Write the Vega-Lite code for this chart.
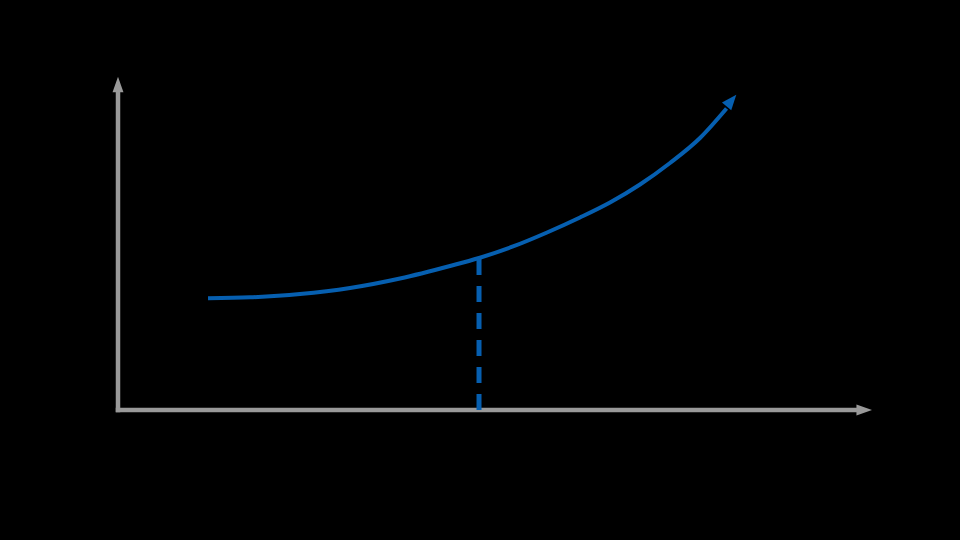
{
  "$schema": "https://vega.github.io/schema/vega-lite/v6.json",
  "autosize": "none",
  "width": 754,
  "height": 333,
  "padding": {"left": 118, "top": 77, "right": 88, "bottom": 130},
  "background": "#000000",
  "config": {"view": {"stroke": null}},
  "layer": [
    {
      "data": {"values": [
        {"x": 0, "y": 0, "x2": 0, "y2": 9.55},
        {"x": 0, "y": 0, "x2": 9.8, "y2": 0}
      ]},
      "mark": {"type": "rule", "color": "#999999", "strokeWidth": 4.5, "strokeCap": "square"},
      "encoding": {
        "x": {"field": "x", "type": "quantitative", "scale": {"domain": [0, 10]}, "axis": null},
        "y": {"field": "y", "type": "quantitative", "scale": {"domain": [0, 10]}, "axis": null},
        "x2": {"field": "x2"},
        "y2": {"field": "y2"}
      }
    },
    {
      "data": {"values": [
        {"x": 0, "y": 9.775, "angle": 0},
        {"x": 9.897, "y": 0, "angle": 90}
      ]},
      "mark": {"type": "point", "shape": "M0,-1L0.7,1L-0.7,1Z", "filled": true, "color": "#999999", "opacity": 1, "size": 243},
      "encoding": {
        "x": {"field": "x", "type": "quantitative", "scale": {"domain": [0, 10]}, "axis": null},
        "y": {"field": "y", "type": "quantitative", "scale": {"domain": [0, 10]}, "axis": null},
        "angle": {"field": "angle", "type": "quantitative", "scale": null}
      }
    },
    {
      "data": {"values": [
        {"x": 4.788, "y": 4.535, "y2": 0}
      ]},
      "mark": {"type": "rule", "color": "#065fb0", "strokeWidth": 5, "strokeDash": [16, 11]},
      "encoding": {
        "x": {"field": "x", "type": "quantitative", "scale": {"domain": [0, 10]}, "axis": null},
        "y": {"field": "y", "type": "quantitative", "scale": {"domain": [0, 10]}, "axis": null},
        "y2": {"field": "y2"}
      }
    },
    {
      "data": {"values": [
        {"x": 1.194, "y": 3.354},
        {"x": 1.751, "y": 3.384},
        {"x": 2.414, "y": 3.483},
        {"x": 3.077, "y": 3.664},
        {"x": 3.740, "y": 3.949},
        {"x": 4.403, "y": 4.324},
        {"x": 4.788, "y": 4.565},
        {"x": 5.239, "y": 4.910},
        {"x": 5.690, "y": 5.330},
        {"x": 6.127, "y": 5.781},
        {"x": 6.525, "y": 6.231},
        {"x": 6.923, "y": 6.772},
        {"x": 7.321, "y": 7.417},
        {"x": 7.719, "y": 8.168},
        {"x": 8.071, "y": 9.054}
      ]},
      "mark": {"type": "line", "color": "#065fb0", "strokeWidth": 4, "interpolate": "monotone"},
      "encoding": {
        "x": {"field": "x", "type": "quantitative", "scale": {"domain": [0, 10]}, "axis": null},
        "y": {"field": "y", "type": "quantitative", "scale": {"domain": [0, 10]}, "axis": null}
      }
    },
    {
      "data": {"values": [
        {"x": 8.136, "y": 9.294, "angle": 40}
      ]},
      "mark": {"type": "point", "shape": "M0,-1L0.8,1L-0.8,1Z", "filled": true, "color": "#065fb0", "opacity": 1, "size": 228},
      "encoding": {
        "x": {"field": "x", "type": "quantitative", "scale": {"domain": [0, 10]}, "axis": null},
        "y": {"field": "y", "type": "quantitative", "scale": {"domain": [0, 10]}, "axis": null},
        "angle": {"field": "angle", "type": "quantitative", "scale": null}
      }
    }
  ]
}
